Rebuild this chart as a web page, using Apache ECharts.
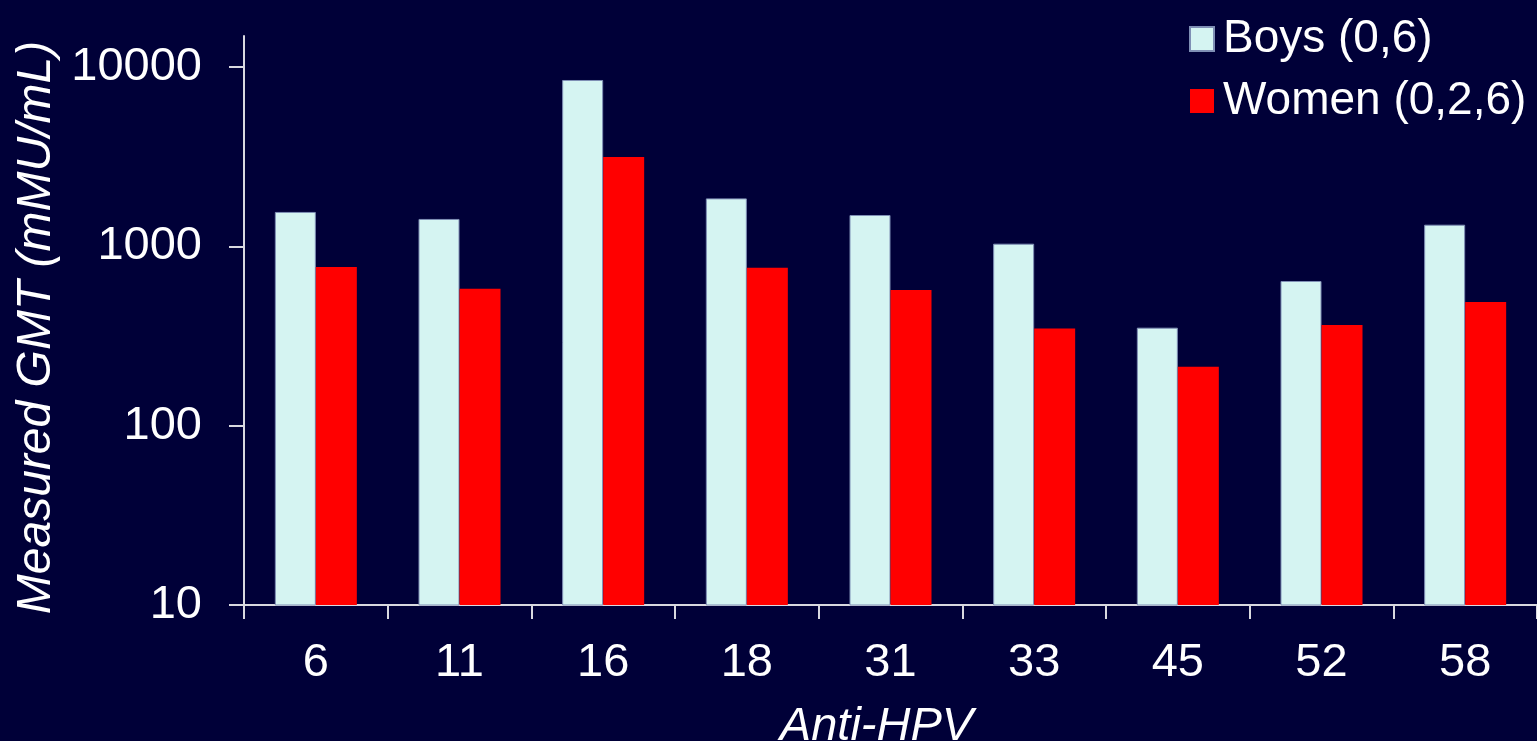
<!DOCTYPE html>
<html>
<head>
<meta charset="utf-8">
<title>Anti-HPV GMT</title>
<script src="https://cdn.jsdelivr.net/npm/echarts@6/dist/echarts.min.js"></script>
<style>
  html, body { margin: 0; padding: 0; background: #000038; }
  #chart { width: 1537px; height: 741px; }
</style>
</head>
<body>
<div id="chart"></div>
<script>
// HPV types tested
const hpvTypes = ['6', '11', '16', '18', '31', '33', '45', '52', '58'];

// Geometric mean titres (mMU/mL)
const boysGMT = [1556, 1422, 8470, 1852, 1496, 1035, 352, 641, 1321];
const womenGMT = [767, 581, 3150, 761, 571, 348, 213, 364, 490];

// Log-axis tick values
const yTicks = [10, 100, 1000, 10000];

const seriesNames = ['Boys (0,6)', 'Women (0,2,6)'];

const FONT = '"Liberation Sans", Arial, sans-serif';
const AXIS_COLOR = '#d9d9e0';

const chart = echarts.init(document.getElementById('chart'), null, { renderer: 'canvas' });

chart.setOption({
  backgroundColor: '#000038',
  animation: false,
  textStyle: { fontFamily: FONT },
  grid: { left: 244, right: 0, top: 36, bottom: 136, containLabel: false, outerBoundsMode: 'none' },
  legend: {
    orient: 'vertical',
    left: 1184,
    top: 11,
    itemWidth: 24,
    itemHeight: 24,
    itemGap: 16,
    icon: 'rect',
    data: seriesNames,
    textStyle: { color: '#ffffff', fontSize: 46, fontFamily: FONT, lineHeight: 44, padding: [0, 0, 0, 4] }
  },
  xAxis: {
    type: 'category',
    data: hpvTypes,
    name: 'Anti-HPV',
    nameLocation: 'middle',
    nameGap: 98,
    nameTextStyle: { color: '#ffffff', fontSize: 47, fontStyle: 'italic', fontFamily: FONT, padding: [0, 28, 0, 0] },
    axisLine: { show: true, lineStyle: { color: AXIS_COLOR, width: 2 } },
    axisTick: { show: true, length: 14, alignWithLabel: false, lineStyle: { color: AXIS_COLOR, width: 2 } },
    axisLabel: { color: '#ffffff', fontSize: 47, margin: 35, fontFamily: FONT },
    splitLine: { show: false }
  },
  yAxis: {
    type: 'log',
    logBase: 10,
    min: 10,
    max: 14900,
    name: 'Measured GMT (mMU/mL)',
    nameLocation: 'middle',
    nameGap: 180,
    nameTextStyle: { color: '#ffffff', fontSize: 48, fontStyle: 'italic', fontFamily: FONT, padding: [0, 14, 0, 0] },
    axisLine: { show: true, lineStyle: { color: AXIS_COLOR, width: 2 } },
    axisTick: { show: true, length: 15, customValues: yTicks, lineStyle: { color: AXIS_COLOR, width: 2 } },
    axisLabel: {
      color: '#ffffff', fontSize: 47, margin: 42, fontFamily: FONT, customValues: yTicks,
      formatter: (v) => String(Math.round(v))
    },
    splitLine: { show: false }
  },
  series: [
    {
      name: seriesNames[0],
      type: 'bar',
      data: boysGMT,
      barWidth: 41,
      barGap: '0%',
      itemStyle: { color: '#d5f4f2', borderColor: '#7f8fb5', borderWidth: 1 }
    },
    {
      name: seriesNames[1],
      type: 'bar',
      data: womenGMT,
      barWidth: 41,
      barGap: '0%',
      itemStyle: { color: '#ff0000' }
    }
  ]
});
</script>
</body>
</html>
